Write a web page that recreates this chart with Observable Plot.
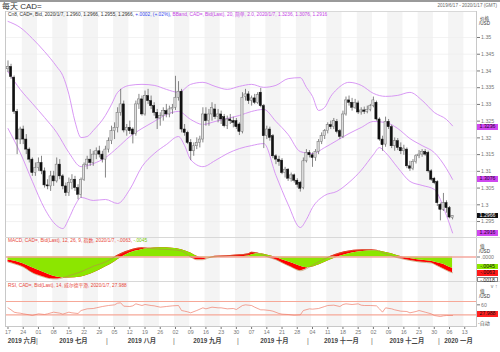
<!DOCTYPE html>
<html><head><meta charset="utf-8">
<script src="https://cdn.jsdelivr.net/npm/d3@7"></script>
<script src="https://cdn.jsdelivr.net/npm/@observablehq/plot@0.6"></script>
<style>
body{margin:0;background:#fff;}
#c{position:relative;width:500px;height:352px;overflow:hidden;font-family:"Liberation Sans",Arial,"Noto Sans CJK SC",sans-serif;}
#c svg{position:absolute;left:0;}
.t{position:absolute;white-space:nowrap;line-height:1;}
.box{position:absolute;left:477px;width:21px;height:5.6px;font-size:5.2px;line-height:5.6px;text-align:center;box-sizing:border-box;}
.ln{position:absolute;background:#d8d8d8;}
</style></head><body><div id="c"></div>
<script>
// ---- data ----
const opens = [1.3405,1.3412,1.3380,1.3278,1.3195,1.3225,1.3195,1.3165,1.3135,1.3095,1.3110,1.3125,1.3100,1.3058,1.3055,1.3085,1.3070,1.3120,1.3085,1.3055,1.3035,1.3065,1.3075,1.3050,1.3030,1.3075,1.3118,1.3135,1.3125,1.3150,1.3160,1.3150,1.3135,1.3165,1.3190,1.3220,1.3230,1.3275,1.3300,1.3222,1.3230,1.3225,1.3212,1.3300,1.3315,1.3270,1.3325,1.3310,1.3295,1.3275,1.3258,1.3265,1.3280,1.3270,1.3285,1.3290,1.3320,1.3338,1.3225,1.3215,1.3185,1.3160,1.3175,1.3185,1.3195,1.3270,1.3250,1.3270,1.3285,1.3262,1.3270,1.3262,1.3235,1.3255,1.3250,1.3250,1.3240,1.3218,1.3322,1.3330,1.3310,1.3318,1.3305,1.3335,1.3295,1.3205,1.3225,1.3205,1.3145,1.3135,1.3132,1.3095,1.3105,1.3078,1.3088,1.3072,1.3066,1.3050,1.3130,1.3155,1.3148,1.3140,1.3158,1.3188,1.3205,1.3220,1.3238,1.3232,1.3248,1.3220,1.3203,1.3270,1.3312,1.3305,1.3290,1.3303,1.3276,1.3282,1.3278,1.3284,1.3295,1.3305,1.3255,1.3195,1.3180,1.3248,1.3232,1.3175,1.3190,1.3170,1.3160,1.3165,1.3115,1.3108,1.3128,1.3145,1.3150,1.3158,1.3155,1.3100,1.3078,1.3068,1.3000,1.2985,1.3005,1.2990,1.2960];
const highs = [1.3430,1.3420,1.3385,1.3285,1.3232,1.3235,1.3210,1.3170,1.3140,1.3125,1.3140,1.3145,1.3110,1.3075,1.3100,1.3100,1.3140,1.3135,1.3090,1.3065,1.3080,1.3090,1.3085,1.3060,1.3080,1.3125,1.3145,1.3165,1.3160,1.3170,1.3175,1.3160,1.3175,1.3200,1.3235,1.3245,1.3290,1.3345,1.3310,1.3240,1.3250,1.3230,1.3310,1.3330,1.3325,1.3340,1.3345,1.3325,1.3305,1.3285,1.3275,1.3290,1.3300,1.3295,1.3300,1.3384,1.3368,1.3345,1.3240,1.3220,1.3195,1.3185,1.3200,1.3205,1.3290,1.3290,1.3285,1.3305,1.3300,1.3285,1.3280,1.3270,1.3265,1.3270,1.3262,1.3258,1.3245,1.3335,1.3345,1.3338,1.3325,1.3330,1.3335,1.3348,1.3300,1.3235,1.3232,1.3210,1.3150,1.3145,1.3138,1.3112,1.3108,1.3095,1.3092,1.3078,1.3070,1.3140,1.3165,1.3162,1.3155,1.3165,1.3195,1.3215,1.3225,1.3245,1.3250,1.3258,1.3255,1.3225,1.3280,1.3322,1.3325,1.3318,1.3315,1.3310,1.3290,1.3292,1.3295,1.3300,1.3322,1.3310,1.3260,1.3205,1.3262,1.3255,1.3238,1.3200,1.3198,1.3185,1.3178,1.3170,1.3130,1.3135,1.3150,1.3162,1.3165,1.3165,1.3160,1.3105,1.3082,1.3072,1.3005,1.3034,1.3012,1.2995,1.2966];
const lows = [1.3395,1.3375,1.3270,1.3150,1.3180,1.3180,1.3150,1.3125,1.3085,1.3085,1.3100,1.3090,1.3050,1.3045,1.3040,1.3055,1.3065,1.3075,1.3045,1.3025,1.3025,1.3045,1.3040,1.3015,1.3020,1.3070,1.3105,1.3115,1.3115,1.3135,1.3140,1.3125,1.3080,1.3155,1.3180,1.3195,1.3215,1.3265,1.3215,1.3205,1.3210,1.3182,1.3205,1.3285,1.3265,1.3265,1.3300,1.3285,1.3265,1.3225,1.3235,1.3250,1.3260,1.3260,1.3270,1.3282,1.3310,1.3215,1.3205,1.3180,1.3132,1.3145,1.3165,1.3170,1.3185,1.3235,1.3235,1.3250,1.3255,1.3245,1.3240,1.3230,1.3225,1.3240,1.3230,1.3225,1.3207,1.3212,1.3310,1.3300,1.3295,1.3300,1.3300,1.3290,1.3168,1.3195,1.3190,1.3138,1.3120,1.3115,1.3090,1.3080,1.3070,1.3068,1.3065,1.3050,1.3038,1.3045,1.3125,1.3140,1.3112,1.3130,1.3150,1.3180,1.3195,1.3212,1.3225,1.3225,1.3212,1.3195,1.3198,1.3265,1.3295,1.3280,1.3285,1.3270,1.3268,1.3270,1.3272,1.3278,1.3290,1.3250,1.3190,1.3160,1.3172,1.3225,1.3168,1.3160,1.3162,1.3150,1.3148,1.3108,1.3100,1.3102,1.3122,1.3138,1.3142,1.3145,1.3095,1.3070,1.3060,1.2995,1.2952,1.2980,1.2975,1.2958,1.2955];
const closes = [1.3412,1.3382,1.3278,1.3195,1.3225,1.3195,1.3165,1.3135,1.3095,1.3110,1.3125,1.3100,1.3058,1.3055,1.3085,1.3070,1.3120,1.3085,1.3055,1.3035,1.3065,1.3075,1.3050,1.3030,1.3075,1.3118,1.3135,1.3125,1.3150,1.3160,1.3150,1.3135,1.3165,1.3190,1.3220,1.3230,1.3275,1.3300,1.3222,1.3230,1.3220,1.3210,1.3300,1.3315,1.3270,1.3325,1.3310,1.3295,1.3275,1.3258,1.3265,1.3280,1.3270,1.3285,1.3290,1.3320,1.3338,1.3225,1.3215,1.3185,1.3160,1.3175,1.3185,1.3195,1.3270,1.3250,1.3270,1.3290,1.3262,1.3270,1.3255,1.3235,1.3255,1.3250,1.3245,1.3232,1.3218,1.3320,1.3330,1.3310,1.3318,1.3305,1.3328,1.3295,1.3205,1.3225,1.3200,1.3145,1.3135,1.3128,1.3095,1.3105,1.3078,1.3088,1.3072,1.3060,1.3048,1.3130,1.3155,1.3148,1.3140,1.3158,1.3188,1.3205,1.3220,1.3238,1.3232,1.3250,1.3218,1.3203,1.3270,1.3312,1.3305,1.3290,1.3305,1.3276,1.3282,1.3278,1.3284,1.3295,1.3312,1.3255,1.3195,1.3178,1.3248,1.3232,1.3175,1.3190,1.3170,1.3160,1.3168,1.3115,1.3108,1.3128,1.3145,1.3150,1.3158,1.3150,1.3100,1.3075,1.3065,1.3005,1.2985,1.3005,1.2990,1.2962,1.2966];

const upperI = [0,4,8,12,16,18,20,22,24,26,28,32,34,36,40,44,48,52,56,60,64,68,72,76,80,84,88,92,96,98,100,102,104,106,108,112,116,120,124,128,132,136,140,144,146];
const upperV = [1.3548,1.3530,1.3497,1.3458,1.3413,1.3386,1.3330,1.3249,1.3201,1.3204,1.3222,1.3267,1.3300,1.3336,1.3357,1.3360,1.3357,1.3345,1.3336,1.3360,1.3366,1.3354,1.3345,1.3354,1.3360,1.3351,1.3357,1.3377,1.3380,1.3351,1.3324,1.3282,1.3291,1.3324,1.3345,1.3366,1.3357,1.3333,1.3324,1.3327,1.3336,1.3312,1.3276,1.3255,1.3236];
const midI = [0,4,8,12,16,20,24,28,32,36,40,44,48,52,56,60,64,68,72,76,80,84,88,92,96,100,104,108,112,116,120,124,128,132,136,140,144,146];
const midV = [1.3398,1.3345,1.3303,1.3261,1.3216,1.3156,1.3114,1.3123,1.3141,1.3171,1.3204,1.3228,1.3249,1.3270,1.3279,1.3255,1.3240,1.3249,1.3258,1.3267,1.3279,1.3285,1.3249,1.3210,1.3159,1.3153,1.3171,1.3192,1.3213,1.3231,1.3249,1.3246,1.3228,1.3198,1.3177,1.3156,1.3108,1.3076];
const lowerI = [0,4,8,12,16,18,20,22,24,28,32,36,40,44,48,52,56,58,60,64,68,72,76,80,84,88,92,96,98,100,104,108,112,116,120,122,124,128,132,136,140,144,146];
const lowerV = [1.3228,1.3156,1.3070,1.2989,1.2938,1.2929,1.2959,1.2998,1.3022,1.3013,1.3016,1.3004,1.3046,1.3114,1.3153,1.3180,1.3204,1.3177,1.3135,1.3114,1.3132,1.3153,1.3168,1.3177,1.3183,1.3088,1.3001,1.2932,1.2956,1.2992,1.3028,1.3040,1.3067,1.3103,1.3150,1.3171,1.3156,1.3111,1.3070,1.3058,1.3046,1.2968,1.2916];

const macdI = [0,2,5,8,12,14,16,18,20,24,28,32,35,37,40,44,46,50,54,57,60,62,64,66,68,72,76,79,80,82,84,86,88,90,93,96,98,100,103,106,109,112,115,118,121,123,126,128,130,133,136,139,141,143,145,146];
const macdV = [-0.0020,-0.0027,-0.0040,-0.0063,-0.0081,-0.0087,-0.0088,-0.0083,-0.0075,-0.0059,-0.0037,-0.0020,0.0000,0.0013,0.0027,0.0037,0.0035,0.0031,0.0029,0.0024,0.0000,-0.0011,-0.0011,-0.0003,0.0003,0.0005,0.0009,0.0013,0.0019,0.0016,0.0007,-0.0003,-0.0011,-0.0023,-0.0040,-0.0055,-0.0047,-0.0033,-0.0013,0.0003,0.0016,0.0024,0.0028,0.0029,0.0027,0.0017,0.0005,-0.0003,-0.0009,-0.0016,-0.0021,-0.0024,-0.0035,-0.0047,-0.0059,-0.0063];
const signalV = [-0.0013,-0.0016,-0.0027,-0.0043,-0.0063,-0.0073,-0.0080,-0.0083,-0.0084,-0.0080,-0.0064,-0.0040,-0.0020,-0.0003,0.0016,0.0029,0.0034,0.0037,0.0035,0.0029,0.0016,0.0003,-0.0003,-0.0005,-0.0003,0.0000,0.0001,0.0004,0.0008,0.0013,0.0011,0.0005,-0.0001,-0.0011,-0.0023,-0.0037,-0.0043,-0.0040,-0.0027,-0.0011,0.0003,0.0013,0.0020,0.0024,0.0025,0.0021,0.0013,0.0005,-0.0001,-0.0008,-0.0013,-0.0017,-0.0023,-0.0029,-0.0041,-0.0045];

const rsiI = [0,1,2,3,4,5,7,8,10,12,13,15,17,18,20,21,23,24,26,28,29,31,33,35,36,37,38,40,41,42,44,45,47,48,50,52,54,56,57,58,59,60,62,64,65,67,69,70,72,74,75,77,78,80,81,83,84,86,87,89,90,92,94,96,97,99,100,102,104,105,107,109,110,111,113,115,116,117,119,121,122,123,124,126,127,129,131,132,134,135,137,139,140,142,143,144,146];
const rsiV = [51,45,38,36,35,33,30,28,33,31,33,38,35,32,38,36,34,43,48,49,51,55,58,60,65,66,56,55,57,63,58,61,58,57,53,55,57,58,43,41,39,36,43,51,48,53,51,51,48,49,46,58,60,58,53,45,45,43,41,34,32,31,29,30,43,48,47,49,55,58,59,55,61,63,61,63,59,58,58,57,48,38,51,48,45,41,40,36,40,43,38,33,28,25,27,28,27.988];

const priceTicks = [1.295,1.3,1.305,1.31,1.315,1.32,1.325,1.33,1.335,1.34,1.345,1.35];
const weekIdx = [0,5,10,15,20,25,30,35,40,45,50,55,60,65,70,75,80,85,90,95,100,105,110,115,120,125,130,135,140,145,150];
const weekLabels = ["17","24","01","08","15","22","29","05","12","19","26","02","09","16","23","30","07","14","21","28","04","11","18","25","02","09","16","23","30","06","13"];
const monthNames = ["2019 六月","2019 七月","2019 八月","2019 九月","2019 十月","2019 十一月","2019 十二月","2020 一月"];
const monthStart = [-0.8,10,33,55,76,99,120,142];
const monthEnd = [10,33,55,76,99,120,142,153.9];

// ---- tables ----
const candles = closes.map((c,i)=>({i, o:opens[i], h:highs[i], l:lows[i], c}));
const up = candles.filter(d=>d.c>=d.o), down = candles.filter(d=>d.c<d.o);
const pairs = (I,V)=>I.map((i,k)=>({i, v:V[k]}));
const upper = pairs(upperI,upperV), mid = pairs(midI,midV), lower = pairs(lowerI,lowerV);
const macd = macdI.map((i,k)=>({i, m:macdV[k], s:signalV[k]}));
const rsi = pairs(rsiI,rsiV);
const months = monthNames.map((n,k)=>({n, c:(monthStart[k]+monthEnd[k])/2}));
const stripeIdx = weekIdx.filter((d,k)=>k%2===1);

const FONT = '"Liberation Sans", Arial, "Noto Sans CJK SC", sans-serif';
const XD = [-0.82, 153.86];
const base = {width:500, marginLeft:5, marginRight:24, x:{domain:XD, axis:null}, style:{fontFamily:FONT, background:"transparent", overflow:"visible"}};
const stripes = (y1,y2)=>Plot.rect(stripeIdx,{x1:d=>d-0.3, x2:d=>Math.min(d+4.7,XD[1]), y1, y2, fill:"#f4f4f4"});
const BB = "#d48cf3";

const C = document.getElementById("c");
function place(el, top){ el.style.top = top+"px"; C.appendChild(el); return el; }
function txt(x, y, s, size, color, extra){ const d=document.createElement("div"); d.className="t"; d.style.left=x+"px"; d.style.top=y+"px"; d.style.fontSize=size+"px"; d.style.color=color; if(extra) Object.assign(d.style, extra); d.innerHTML=s; C.appendChild(d); return d; }
function box(top, s, bg, color, border){ const d=document.createElement("div"); d.className="box"; d.style.top=top+"px"; d.style.background=bg; d.style.color=color; if(border) d.style.border=border; d.textContent=s; C.appendChild(d); return d; }

// ---- main price panel ----
const YD = [1.29023, 1.35777];
const main = Plot.plot({...base, height:237, marginTop:11, marginBottom:0,
  y:{domain:YD, axis:null},
  marks:[
    stripes(YD[0],YD[1]),
    Plot.ruleY(priceTicks,{stroke:"#ececec", strokeWidth:0.7}),
    Plot.line(upper,{x:"i", y:"v", stroke:BB, strokeWidth:0.9, curve:"monotone-x", clip:true}),
    Plot.line(mid,{x:"i", y:"v", stroke:BB, strokeWidth:0.9, curve:"monotone-x", clip:true}),
    Plot.line(lower,{x:"i", y:"v", stroke:BB, strokeWidth:0.9, curve:"monotone-x", clip:true}),
    Plot.ruleX(candles,{x:"i", y1:"l", y2:"h", stroke:"#666", strokeWidth:0.8}),
    Plot.rect(up,{x1:d=>d.i-0.36, x2:d=>d.i+0.36, y1:"o", y2:"c", fill:"#dcdcdc", stroke:"#707070", strokeWidth:0.5}),
    Plot.rect(down,{x1:d=>d.i-0.36, x2:d=>d.i+0.36, y1:"o", y2:"c", fill:"#111", stroke:"#111", strokeWidth:0.5}),
    Plot.axisY(priceTicks,{anchor:"right", tickSize:3, tickPadding:1.5, tickFormat:d=>String(+d.toFixed(3)), fontSize:5.3, color:"#777"})
  ]});
place(main, 0);

// ---- MACD panel ----
const MD = [-0.0098, 0.0078];
const macdPlot = Plot.plot({...base, height:44, marginTop:0, marginBottom:0,
  y:{domain:MD, axis:null},
  marks:[
    stripes(MD[0],MD[1]),
    Plot.areaY(macd,{x:"i", y1:"s", y2:"m", fill:"#ff0000", curve:"monotone-x"}),
    Plot.areaY(macd,{x:"i", y1:0, y2:"s", fill:"#8ce600", curve:"monotone-x"}),
    Plot.ruleY([0],{stroke:"#f5a79e", strokeWidth:1.5}),
    Plot.line(macd,{x:"i", y:"m", stroke:"#b8874e", strokeWidth:0.6, curve:"monotone-x"}),
    Plot.axisY([0],{anchor:"right", tickSize:3, tickPadding:1.5, tickFormat:()=>".0000", fontSize:5.2, color:"#777"})
  ]});
place(macdPlot, 237);

// ---- RSI panel + time axis ----
const RD = [-5, 130];
const rsiPlot = Plot.plot({...base, height:71, marginTop:0, marginBottom:26,
  y:{domain:RD, axis:null},
  marks:[
    stripes(RD[0],RD[1]),
    Plot.ruleY([70,30],{stroke:"#f6a898", strokeWidth:1.2}),
    Plot.line(rsi,{x:"i", y:"v", stroke:"#ef7d6a", strokeWidth:0.7}),
    Plot.axisY([60],{anchor:"right", tickSize:3, tickPadding:1.5, fontSize:5.2, color:"#777"}),
    Plot.axisX(weekIdx,{anchor:"bottom", tickSize:3, tickPadding:1, tickFormat:d=>weekLabels[weekIdx.indexOf(d)], fontSize:5.3, color:"#777"}),
    Plot.text(months,{x:"c", text:"n", frameAnchor:"bottom", dy:16, fontSize:6.3, fontWeight:"bold", fill:"#444"}),
    Plot.text(monthStart.slice(1),{x:d=>d-0.5, text:()=>"|", frameAnchor:"bottom", dy:16, fontSize:7, fill:"#666"})
  ]});
place(rsiPlot, 281);

// ---- frame lines ----
function line(l,t,w,h,col){ const d=document.createElement("div"); d.className="ln"; Object.assign(d.style,{left:l+"px",top:t+"px",width:w+"px",height:h+"px"}); if(col) d.style.background=col; C.appendChild(d); }
line(0,0,500,2,"#9a9a9a");
line(5,11,471,1);
line(5,11,1,316,"#c8c8c8");
line(476,11,1,316,"#c8c8c8");
line(5,237,495,1);
line(5,281,495,1);
line(5,326,471,1,"#c8c8c8");

// ---- texts ----
txt(2,3,"每天 CAD=",8,"#333");
txt(0,4,"2019/6/17 - 2020/1/17 (GMT)",4.6,"#666",{left:"auto",right:"3px"});
const last = candles[candles.length-1];
txt(8,13,`<span style="color:#333">Cn8, CAD=, Bid, 2020/1/7, ${last.o.toFixed(4)}, ${last.h.toFixed(4)}, ${last.l.toFixed(4)}, ${last.c.toFixed(4)}, </span><span style="color:#3344ee">+.0002, (+.02%), </span><span style="color:#c63fe6">BBand, CAD=, Bid(Last), 20, 简单, 2.0, 2020/1/7, ${upperV.at(-1).toFixed(4)}, ${midV.at(-1).toFixed(4)}, ${lowerV.at(-1).toFixed(4)}</span>`,4.8,"#333");
txt(480,17,"价格",4.6,"#333");
txt(479,22,"/USD",4.6,"#333");
const fm = v=>(v<0?"-":"")+Math.abs(v).toFixed(4).replace(/^0/,"");
txt(8,238.5,`<span style="color:#e8473b">MACD, CAD=, Bid(Last), 12, 26, 9, 指数, 2020/1/7, ${fm(macdV.at(-1))}, </span><span style="color:#74c800">${fm(signalV.at(-1))}</span>`,4.8,"#e8473b");
txt(480,244.5,"值",4.6,"#333");
txt(479,250,"/USD",4.6,"#333");
txt(8,283.5,`RSI, CAD=, Bid(Last), 14, 威尔德平滑, 2020/1/7, ${rsiV.at(-1).toFixed(3)}`,4.8,"#e8473b");
txt(480,289.5,"值",4.6,"#333");
txt(479,295,"/USD",4.6,"#333");
txt(478,321,"-自动",5,"#555");

// value boxes on the right axes
const ys = main.scale("y");
const PUR = "#cf48f0";
box(ys.apply(upperV.at(-1))-1.3, upperV.at(-1).toFixed(4), PUR, "#2a0030");
box(ys.apply(midV.at(-1))-2.5, midV.at(-1).toFixed(4), PUR, "#2a0030");
box(ys.apply(last.c)-3, last.c.toFixed(4), "#111", "#fff");
box(ys.apply(lowerV.at(-1))-2.5, lowerV.at(-1).toFixed(4), PUR, "#2a0030");
const ms = macdPlot.scale("y");
const gTop = 237 + ms.apply(signalV.at(-1)) - 4;
const rTop = Math.max(237 + ms.apply(macdV.at(-1)) - 3, gTop + 6.3);
box(gTop, fm(signalV.at(-1)), "#8ce600", "#111");
box(rTop, fm(macdV.at(-1)), "#ff1a1a", "#111");
box(rTop + 6.6, fm(macdV.at(-1)-signalV.at(-1)), "#fff", "#333", "0.5px solid #888");
const rs = rsiPlot.scale("y");
box(281 + rs.apply(rsiV.at(-1)) - 4, rsiV.at(-1).toFixed(3), "#ff2020", "#111");
</script></body></html>
